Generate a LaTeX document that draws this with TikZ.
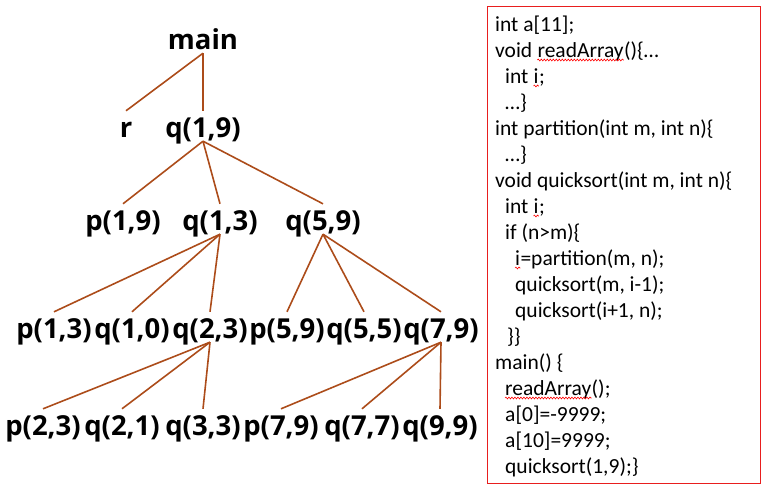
\documentclass[tikz,border=0pt]{standalone}
\usepackage{fontspec}
\setmainfont{Carlito}
\newfontfamily\treefont{Open Sans}
\usetikzlibrary{decorations.pathmorphing}
\definecolor{brownline}{RGB}{172,76,26}
\definecolor{boxred}{RGB}{232,30,30}
\begin{document}
\begin{tikzpicture}[x=1pt,y=-1pt,
  lbl/.style={font=\treefont\bfseries\fontsize{27.5}{30}\selectfont, inner sep=0pt, text height=26pt, text depth=4pt, anchor=base},
  ln/.style={draw=brownline, line width=1.6pt},
  code/.style={font=\fontsize{21.5}{26}\selectfont, inner sep=0pt, anchor=base west},
  wave/.style={draw=red, line width=0.6pt, decorate, decoration={snake, amplitude=0.9pt, segment length=3pt}}]
\useasboundingbox (0,0) rectangle (768,491);
% tree
\node[lbl] (main) at (203,49) {main};
\node[lbl] (r) at (126,137) {r};
\node[lbl] (q19) at (203,137) {q(1,9)};
\node[lbl] (p19) at (123,230) {p(1,9)};
\node[lbl] (q13) at (220,230) {q(1,3)};
\node[lbl] (q59) at (323,230) {q(5,9)};
\node[lbl] (p13) at (54,338) {p(1,3)};
\node[lbl] (q10) at (132,338) {q(1,0)};
\node[lbl] (q23) at (210,338) {q(2,3)};
\node[lbl] (p59) at (287,338) {p(5,9)};
\node[lbl] (q55) at (364,338) {q(5,5)};
\node[lbl] (q79) at (441,338) {q(7,9)};
\node[lbl] (p23) at (43,435) {p(2,3)};
\node[lbl] (q21) at (122,435) {q(2,1)};
\node[lbl] (q33) at (203,435) {q(3,3)};
\node[lbl] (p79) at (281,435) {p(7,9)};
\node[lbl] (q77) at (362,435) {q(7,7)};
\node[lbl] (q99) at (440,435) {q(9,9)};
\foreach \a/\b in {main/r, main/q19, q19/p19, q19/q13, q19/q59,
  q13/p13, q13/q10, q13/q23, q59/p59, q59/q55, q59/q79,
  q23/p23, q23/q21, q23/q33, q79/p79, q79/q77, q79/q99}
  \draw[ln] (\a.south) -- (\b.north);
% code box
\draw[boxred, line width=1pt] (487,6) rectangle (760,483);
\node[code] (c1) at (495,31) {int a[11];};
\node[code] (c2) at (495,57) {void\ \null};
\node[code] (c2w) at (c2.base east) {readArray};
\node[code] (c2r) at (c2w.base east) {()\{…};
\node[code] (c3) at (505,83) {int\ \null};
\node[code] (c3w) at (c3.base east) {i};
\node[code] (c3r) at (c3w.base east) {;};
\node[code] (c4) at (505,109) {…\}};
\node[code] (c5) at (495,135) {int partition(int m, int n)\{};
\node[code] (c6) at (505,161) {…\}};
\node[code] (c7) at (495,187) {void quicksort(int m, int n)\{};
\node[code] (c8) at (505,213) {int\ \null};
\node[code] (c8w) at (c8.base east) {i};
\node[code] (c8r) at (c8w.base east) {;};
\node[code] (c9) at (505,239) {if (n>m)\{};
\node[code] (c10w) at (515,265) {i};
\node[code] (c10) at (c10w.base east) {=partition(m, n);};
\node[code] (c11) at (515,291) {quicksort(m, i-1);};
\node[code] (c12) at (515,317) {quicksort(i+1, n);};
\node[code] (c13) at (507,343) {\}\}};
\node[code] (c14) at (495,369) {main() \{};
\node[code] (c15w) at (505,395) {readArray};
\node[code] (c15) at (c15w.base east) {();};
\node[code] (c16) at (505,421) {a[0]=-9999;};
\node[code] (c17) at (505,447) {a[10]=9999;};
\node[code] (c18) at (505,473) {quicksort(1,9);\}};
% spell-check underlines
\foreach \w in {c2w, c3w, c8w, c10w, c15w}
  \draw[wave] ([yshift=-3pt]\w.base west) -- ([yshift=-3pt]\w.base east);
\end{tikzpicture}
\end{document}
